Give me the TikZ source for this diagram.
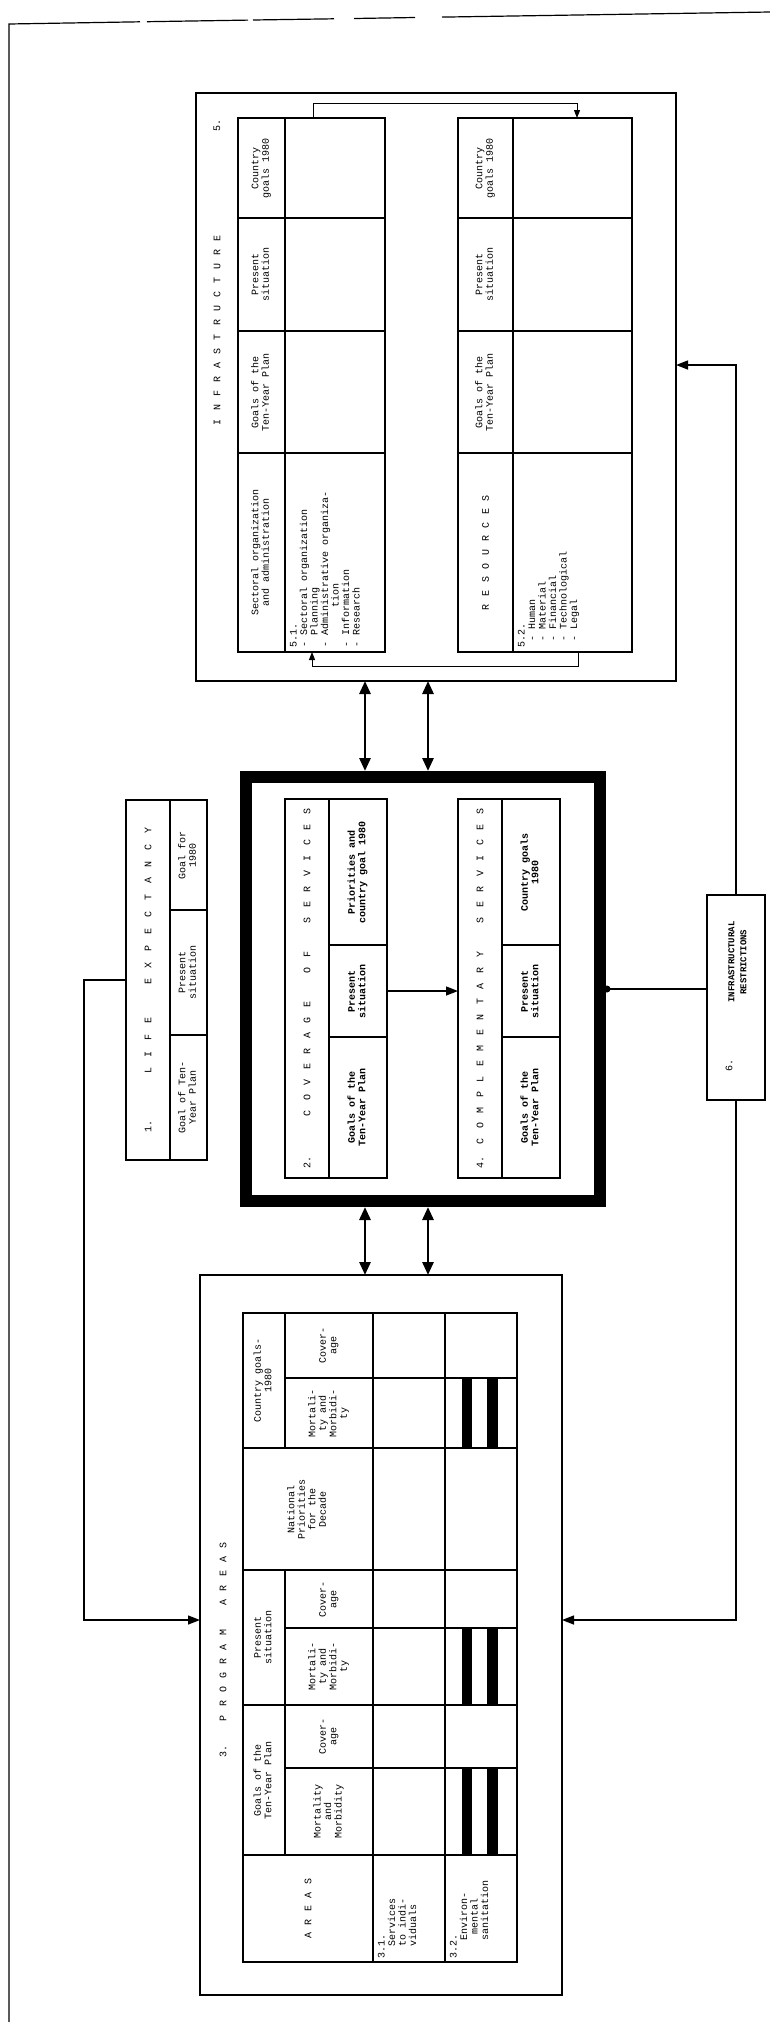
\documentclass[tikz,border=0pt]{standalone}
\usepackage{fontspec}
\setmainfont{Liberation Mono}
\usepackage{graphicx}
\usetikzlibrary{arrows.meta}
\newcommand\rtc[1]{\rotatebox{90}{\begin{tabular}{@{}c@{}}#1\end{tabular}}}
\newcommand\rtl[1]{\rotatebox{90}{\begin{tabular}{@{}l@{}}#1\end{tabular}}}
\newcommand\spc[2]{\rotatebox{90}{\makebox[#1][s]{#2}}}
\newcommand\tcell[6]{\node[cellst,minimum width={#4-#2},minimum height={#5-#3}] (#1) at ({(#2+#4)/2},{(#3+#5)/2}) {#6};}
\newcommand\frm[6]{\node[#6,minimum width={#4-#2},minimum height={#5-#3}] (#1) at ({(#2+#4)/2},{(#3+#5)/2}) {};}
\begin{document}
\begin{tikzpicture}[x=1pt,y=-1pt,
  cellst/.style={draw,line width=1.2pt,rectangle,inner sep=0pt,outer sep=0pt,font=\fontsize{10}{10.5}\selectfont},
  boldcell/.style={cellst,font=\fontsize{10}{10.5}\selectfont\bfseries},
  frame/.style={draw,line width=1.2pt,rectangle,inner sep=0pt,outer sep=0pt},
  thickframe/.style={draw,line width=12pt,rectangle,inner sep=0pt,outer sep=0pt},
  txt/.style={inner sep=0pt,font=\fontsize{10}{10.5}\selectfont},
  arr/.style={line width=1.4pt,-{Triangle[length=12pt,width=9pt]}},
  smallarr/.style={line width=1pt,-{Triangle[length=8pt,width=6pt]}},
  darr/.style={line width=2.8pt,{Triangle[length=13pt,width=11pt]}-{Triangle[length=13pt,width=11pt]}},
  ln/.style={line width=1.4pt}
]
\useasboundingbox (0,0) rectangle (770,2022);
\fill[white] (0,0) rectangle (770,2022);

% outer frame (open)
\draw[line width=1.2pt] (9,2022) -- (9,24) -- (140,21.8);
\draw[line width=1.2pt] (147,21.7) -- (248,20.1);
\draw[line width=1.2pt] (253,20) -- (334,18.8);
\draw[line width=1.2pt] (354,18.5) -- (415,17.5);
\draw[line width=1.2pt] (442,17.1) -- (770,12);

% ---------- Box 5: infrastructure ----------
\frm{b5}{196}{93}{676}{681}{frame}
\node[txt] (b5n) at (217,125) {\rotatebox{90}{5.}};
\node[txt] (b5t) at (217,330) {\spc{190pt}{I N F R A S T R U C T U R E}};

\frm{u5}{238}{118}{385}{652}{frame}
\tcell{u5a}{238}{118}{285}{218}{\rtc{Country\\goals 1980}}
\tcell{u5b}{238}{218}{285}{331}{\rtc{Present\\situation}}
\tcell{u5c}{238}{331}{285}{453}{\rtc{Goals of the\\Ten-Year Plan}}
\tcell{u5d}{238}{453}{285}{652}{\rtc{Sectoral organization\\and administration}}
\tcell{u5e}{285}{118}{385}{218}{}
\tcell{u5f}{285}{218}{385}{331}{}
\tcell{u5g}{285}{331}{385}{453}{}
\tcell{u5h}{285}{453}{385}{652}{}
\node[txt,anchor=south west] (u5l) at (289,648) {\rtl{5.1.\\- Sectoral organization\\\ \ Planning\\- Administrative organiza-\\\hspace{4em}tion\\- Information\\- Research}};

\frm{l5}{458}{118}{632}{652}{frame}
\tcell{l5a}{458}{118}{513}{218}{\rtc{Country\\goals 1980}}
\tcell{l5b}{458}{218}{513}{331}{\rtc{Present\\situation}}
\tcell{l5c}{458}{331}{513}{453}{\rtc{Goals of the\\Ten-Year Plan}}
\tcell{l5d}{458}{453}{513}{652}{\spc{115pt}{R E S O U R C E S}}
\tcell{l5e}{513}{118}{632}{218}{}
\tcell{l5f}{513}{218}{632}{331}{}
\tcell{l5g}{513}{331}{632}{453}{}
\tcell{l5h}{513}{453}{632}{652}{}
\node[txt,anchor=south west] (l5l) at (517,648) {\rtl{5.2.\\\ - Human\\\ - Material\\\ - Financial\\\ - Technological\\\ - Legal}};

\coordinate (t1) at (313,103); \coordinate (t2) at (577,103);
\draw[smallarr] (t1 |- u5.north) -- (t1) -- (t2) -- (t2 |- l5.north);
\coordinate (q1) at (578,666); \coordinate (q2) at (312,666);
\draw[smallarr] (q1 |- l5.south) -- (q1) -- (q2) -- (q2 |- u5.south);

% ---------- Box 1: life expectancy ----------
\frm{b1}{126}{800}{207}{1160}{frame}
\tcell{b1t}{126}{800}{170}{1160}{\spc{305pt}{1.\hspace{25pt}\ \ L I F E\ \ \ E X P E C T A N C Y}}
\tcell{b1a}{170}{800}{207}{910}{\rtc{Goal for\\1980}}
\tcell{b1b}{170}{910}{207}{1035}{\rtc{Present\\situation}}
\tcell{b1c}{170}{1035}{207}{1160}{\rtc{Goal of Ten-\\Year Plan}}

% ---------- thick box with 2 and 4 ----------
\frm{tk}{246}{777}{600}{1201}{thickframe}
\frm{b2}{285}{799}{387}{1178}{frame}
\tcell{b2t}{285}{799}{329}{1178}{\spc{360pt}{2.\hspace{40pt}C O V E R A G E\ \ \ O F\ \ \ S E R V I C E S}}
\node[boldcell,minimum width=58,minimum height=146] (b2a) at (358,872) {\rtc{Priorities and\\country goal 1980}};
\node[boldcell,minimum width=58,minimum height=92] (b2b) at (358,991) {\rtc{Present\\situation}};
\node[boldcell,minimum width=58,minimum height=141] (b2c) at (358,1107.5) {\rtc{Goals of the\\Ten-Year Plan}};

\frm{b4}{458}{799}{560}{1178}{frame}
\tcell{b4t}{458}{799}{502}{1178}{\spc{360pt}{4.\hspace{12pt}C O M P L E M E N T A R Y\ \ \ S E R V I C E S}}
\node[boldcell,minimum width=58,minimum height=146] (b4a) at (531,872) {\rtc{Country goals\\1980}};
\node[boldcell,minimum width=58,minimum height=92] (b4b) at (531,991) {\rtc{Present\\situation}};
\node[boldcell,minimum width=58,minimum height=141] (b4c) at (531,1107.5) {\rtc{Goals of the\\Ten-Year Plan}};

\draw[arr] (b2b.east) -- (b2b.east -| b4.west);

% ---------- Box 6 ----------
\frm{b6}{707}{895}{765}{1100}{frame}
\node[txt] (b6n) at (729,1065) {\rotatebox{90}{6.}};
\node[txt,font=\fontsize{9}{12}\selectfont\bfseries] (b6t) at (738,962) {\rtc{INFRASTRUCTURAL\\RESTRICTIONS}};

% ---------- Box 3: program areas ----------
\frm{b3}{200}{1275}{562}{1995}{frame}
\node[txt] (b3t) at (223,1650) {\spc{215pt}{3.\hspace{8pt}\ \ P R O G R A M\ \ \ A R E A S}};

\tcell{p1}{243}{1313}{285}{1448}{\rtc{Country goals-\\1980}}
\tcell{p2}{285}{1313}{373}{1378}{\rtc{Cover-\\age}}
\tcell{p3}{285}{1378}{373}{1448}{\rtc{Mortali-\\ty and\\Morbidi-\\ty}}
\tcell{p4}{243}{1448}{373}{1570}{\rtc{National\\Priorities\\for the\\Decade}}
\tcell{p5}{243}{1570}{285}{1705}{\rtc{Present\\situation}}
\tcell{p6}{285}{1570}{373}{1628}{\rtc{Cover-\\age}}
\tcell{p7}{285}{1628}{373}{1705}{\rtc{Mortali-\\ty and\\Morbidi-\\ty}}
\tcell{p8}{243}{1705}{285}{1855}{\rtc{Goals of the\\Ten-Year Plan}}
\tcell{p9}{285}{1705}{373}{1768}{\rtc{Cover-\\age}}
\tcell{p10}{285}{1768}{373}{1855}{\rtc{Mortality\\and\\Morbidity}}
\tcell{p11}{243}{1855}{373}{1962}{\spc{60pt}{A R E A S}}

\tcell{s1}{373}{1313}{445}{1378}{}
\tcell{s2}{373}{1378}{445}{1448}{}
\tcell{s3}{373}{1448}{445}{1570}{}
\tcell{s4}{373}{1570}{445}{1628}{}
\tcell{s5}{373}{1628}{445}{1705}{}
\tcell{s6}{373}{1705}{445}{1768}{}
\tcell{s7}{373}{1768}{445}{1855}{}
\tcell{s8}{373}{1855}{445}{1962}{}
\tcell{e1}{445}{1313}{517}{1378}{}
\tcell{e2}{445}{1378}{517}{1448}{}
\tcell{e3}{445}{1448}{517}{1570}{}
\tcell{e4}{445}{1570}{517}{1628}{}
\tcell{e5}{445}{1628}{517}{1705}{}
\tcell{e6}{445}{1705}{517}{1768}{}
\tcell{e7}{445}{1768}{517}{1855}{}
\tcell{e8}{445}{1855}{517}{1962}{}
\node[txt,anchor=south west] (s8l) at (377,1959) {\rtl{3.1.\\\ \ Services\\\ \ to indi-\\\ \ viduals}};
\node[txt,anchor=south west] (e8l) at (449,1959) {\rtl{3.2.\\\ \ \ Environ-\\\ \ \ \ mental\\\ \ \ sanitation}};

% black bars
\fill (462,1378) rectangle (472,1448); \fill (487,1378) rectangle (498,1448);
\fill (462,1628) rectangle (472,1705); \fill (487,1628) rectangle (498,1705);
\fill (462,1768) rectangle (472,1855); \fill (487,1768) rectangle (498,1855);

% ---------- connectors ----------
\coordinate (c1) at (84,1620);
\draw[arr] (b1.west) -| (c1) -- (c1 -| b3.west);
\coordinate (c6b) at (736,1620);
\draw[arr] (b6.south) -- (c6b) -- (c6b -| b3.east);
\coordinate (c6t) at (736,365);
\draw[arr] (b6.north) -- (c6t) -- (c6t -| b5.east);
\coordinate (dot) at (607,989);
\draw[ln] (dot) -- (dot -| b6.west);
\fill (dot) circle (3.5);

\coordinate (xa) at (365,0); \coordinate (xb) at (428,0);
\draw[darr,shorten >=6pt] (b5.south -| xa) -- (tk.north -| xa);
\draw[darr,shorten >=6pt] (b5.south -| xb) -- (tk.north -| xb);
\draw[darr,shorten <=6pt] (tk.south -| xa) -- (b3.north -| xa);
\draw[darr,shorten <=6pt] (tk.south -| xb) -- (b3.north -| xb);
\end{tikzpicture}
\end{document}
